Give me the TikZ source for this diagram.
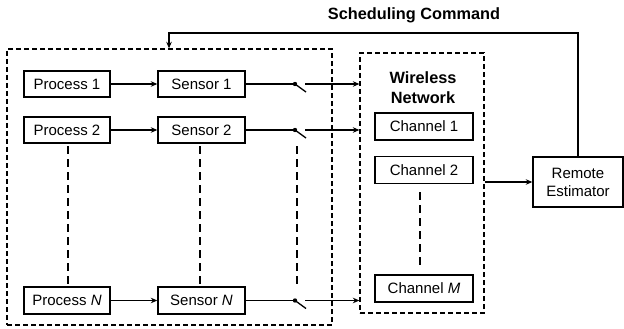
\documentclass[tikz,border=0pt]{standalone}
\usepackage{fontspec}
\setmainfont{Liberation Sans}
\usetikzlibrary{arrows.meta}
\begin{document}
\begin{tikzpicture}[x=1pt,y=1pt,
  blk/.style={draw,line width=1.4pt,minimum height=26pt,inner sep=0pt,font=\fontsize{15}{18}\selectfont},
  grp/.style={draw,line width=1.3pt,dash pattern=on 5pt off 3pt},
  vdash/.style={line width=1.3pt,dash pattern=on 8pt off 5pt},
  conn/.style={line width=1.3pt},
  arr/.style={conn,-{Stealth[length=6.5pt,width=5.5pt]}},
  lbl/.style={font=\fontsize{16.3}{20}\selectfont\bfseries,align=center}]
\useasboundingbox (0,0) rectangle (624,-329);
% groups
\node[grp,minimum width=325pt,minimum height=276pt,inner sep=0pt] (sys) at (169.5,-187) {};
\node[grp,minimum width=124pt,minimum height=260pt,inner sep=0pt] (wn) at (422,-183) {};
% blocks
\node[blk,minimum width=86pt] (p1) at (67,-84) {Process 1};
\node[blk,minimum width=87pt] (s1) at (201.5,-84) {Sensor 1};
\node[blk,minimum width=86pt] (p2) at (67,-130) {Process 2};
\node[blk,minimum width=87pt] (s2) at (201.5,-130) {Sensor 2};
\node[blk,minimum width=86pt,minimum height=27pt] (pn) at (67,-300.5) {Process \textit{N}};
\node[blk,minimum width=87pt,minimum height=27pt] (sn) at (201.5,-300.5) {Sensor \textit{N}};
\node[lbl] (wl) at (423,-88) {Wireless\\Network};
\node[blk,minimum width=98pt,minimum height=27pt] (c1) at (424,-126.5) {Channel 1};
\node[blk,minimum width=98pt,minimum height=27pt] (c2) at (424,-170) {Channel 2};
\node[blk,minimum width=98pt,minimum height=27pt] (cm) at (424,-288.5) {Channel \textit{M}};
\node[blk,minimum width=90pt,minimum height=50pt,align=center] (re) at (578,-182) {Remote\\Estimator};
\node[lbl] (sc) at (414,-15) {Scheduling Command};
% switches
\foreach \i/\y in {1/-84,2/-130,n/-300.5}{
  \coordinate (sw\i) at (295,\y);
  \coordinate (so\i) at (305,\y);
  \fill (sw\i) circle (2.2pt);
  \draw[conn] (sw\i) -- ++(11,-8);
  \draw[arr] (so\i) -- (wn.west |- so\i);
}
\draw[arr] (p1) -- (s1);
\draw[arr] (p2) -- (s2);
\draw[arr] (pn) -- (sn);
\draw[conn] (s1) -- (sw1);
\draw[conn] (s2) -- (sw2);
\draw[conn] (sn) -- (swn);
% vertical dashes
\coordinate (d1a) at (68,-146); \coordinate (d1b) at (68,-285);
\coordinate (d2a) at (200,-146); \coordinate (d2b) at (200,-285);
\coordinate (d3a) at (297,-146); \coordinate (d3b) at (297,-285);
\coordinate (d4a) at (420,-192); \coordinate (d4b) at (420,-268);
\draw[vdash] (d1a) -- (d1b);
\draw[vdash] (d2a) -- (d2b);
\draw[vdash] (d3a) -- (d3b);
\draw[vdash] (d4a) -- (d4b);
% network to estimator
\draw[arr] (wn.east |- re.west) -- (re.west);
% scheduling command
\coordinate (top) at (578,-33);
\coordinate (topl) at (169,-33);
\draw[arr] (re.north) -- (top) -- (topl) -- (topl |- sys.north);
\end{tikzpicture}
\end{document}
